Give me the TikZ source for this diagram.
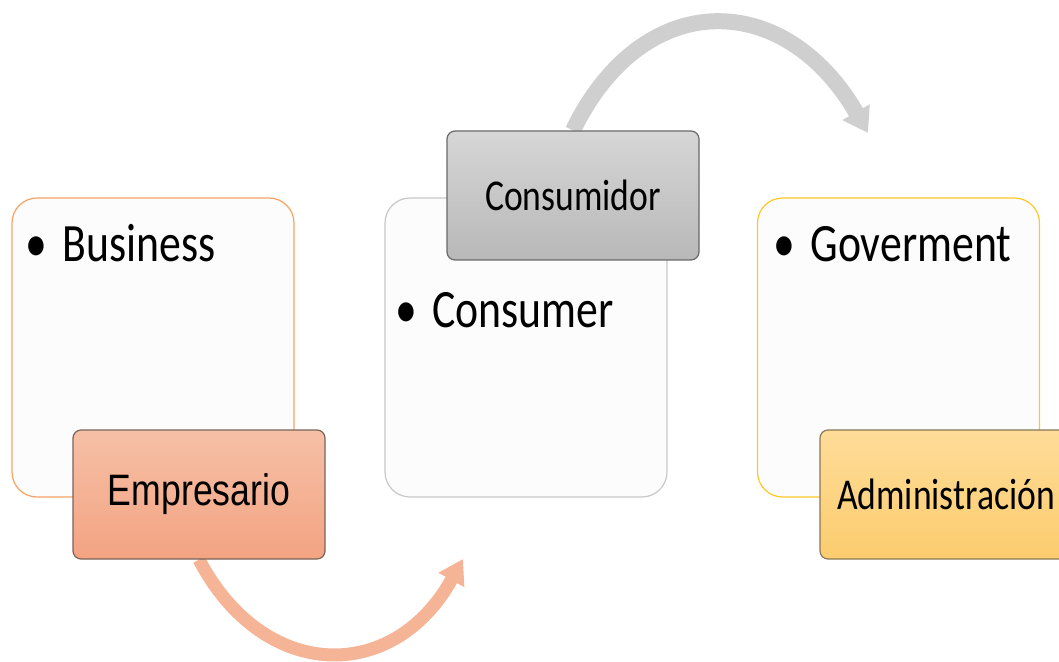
\documentclass[tikz,border=0pt]{standalone}
\usepackage{fontspec}
\setmainfont{Carlito}
\newfontfamily\arialfont{Liberation Sans}
\usetikzlibrary{arrows.meta,backgrounds,positioning}

\definecolor{bizline}{RGB}{246,162,98}
\definecolor{conline}{RGB}{200,200,200}
\definecolor{govline}{RGB}{255,200,40}
\definecolor{empline}{RGB}{120,100,90}
\definecolor{cmdline}{RGB}{105,105,105}
\definecolor{admline}{RGB}{135,120,85}
\definecolor{emptop}{RGB}{246,192,166}
\definecolor{empbot}{RGB}{243,163,130}
\definecolor{cmdtop}{RGB}{214,214,214}
\definecolor{cmdbot}{RGB}{184,184,184}
\definecolor{admtop}{RGB}{254,220,152}
\definecolor{admbot}{RGB}{252,204,110}
\definecolor{arroworange}{RGB}{245,180,150}
\definecolor{arrowgray}{RGB}{207,207,207}

\newcommand{\sq}[1]{\scalebox{0.81}[1]{#1}}

\begin{document}
\begin{tikzpicture}[x=0.5pt, y=-0.5pt,
	bigbox/.style={draw=#1, line width=0.6pt, fill=white!99!black, rounded corners=12.5pt,
		minimum width=141pt, minimum height=149.5pt, inner sep=0pt},
	tagbox/.style={draw=#1, line width=0.6pt, rounded corners=4pt,
		minimum width=126pt, minimum height=64.5pt, inner sep=0pt},
	bullettext/.style={anchor=base west, inner sep=0pt, font=\fontsize{27}{30}\selectfont},
	tagtext/.style={font=\fontsize{22}{26}\selectfont}
]
\clip (0,0) rectangle (1059,662);

% big boxes
\node[bigbox=bizline] (biz) at (153,347.5) {};
\node[bigbox=conline] (con) at (526,347.5) {};
\node[bigbox=govline] (gov) at (898.5,347.5) {};

% bullets
\node[bullettext] (bizText) at (25,262) {\sq{\textbullet\hspace{0.35em}Business}};
\node[bullettext] (conText) at (395,328) {\sq{\textbullet\hspace{0.35em}Consumer}};
\node[bullettext] (govText) at (773,262) {\sq{\textbullet\hspace{0.35em}Goverment}};

% tags
\node[tagbox=empline, top color=emptop, bottom color=empbot,
	font=\arialfont\fontsize{22}{26}\selectfont] (emp) at (199,494.5) {\sq{Empresario}};
\node[tagbox=cmdline, top color=cmdtop, bottom color=cmdbot, tagtext] (cmd) at (573,195.5) {\sq{Consumidor}};
\node[tagbox=admline, top color=admtop, bottom color=admbot, tagtext] (adm) at (946,494.5) {\sq{Administración}};

% arrows
\coordinate (empTip) at (463,559);
\coordinate (cmdTip) at (868,133);
\begin{scope}[on background layer]
\draw[draw=arroworange, line width=6.5pt, -{Triangle[width=14pt,length=12pt]}]
	(emp.south) .. controls +(64,122) and +(-70,126) .. (empTip);
\draw[draw=arrowgray, line width=8pt, -{Triangle[width=15pt,length=12pt]}]
	(cmd.north) .. controls +(70,-144) and +(-83,-144) .. (cmdTip);
\end{scope}
\end{tikzpicture}
\end{document}
